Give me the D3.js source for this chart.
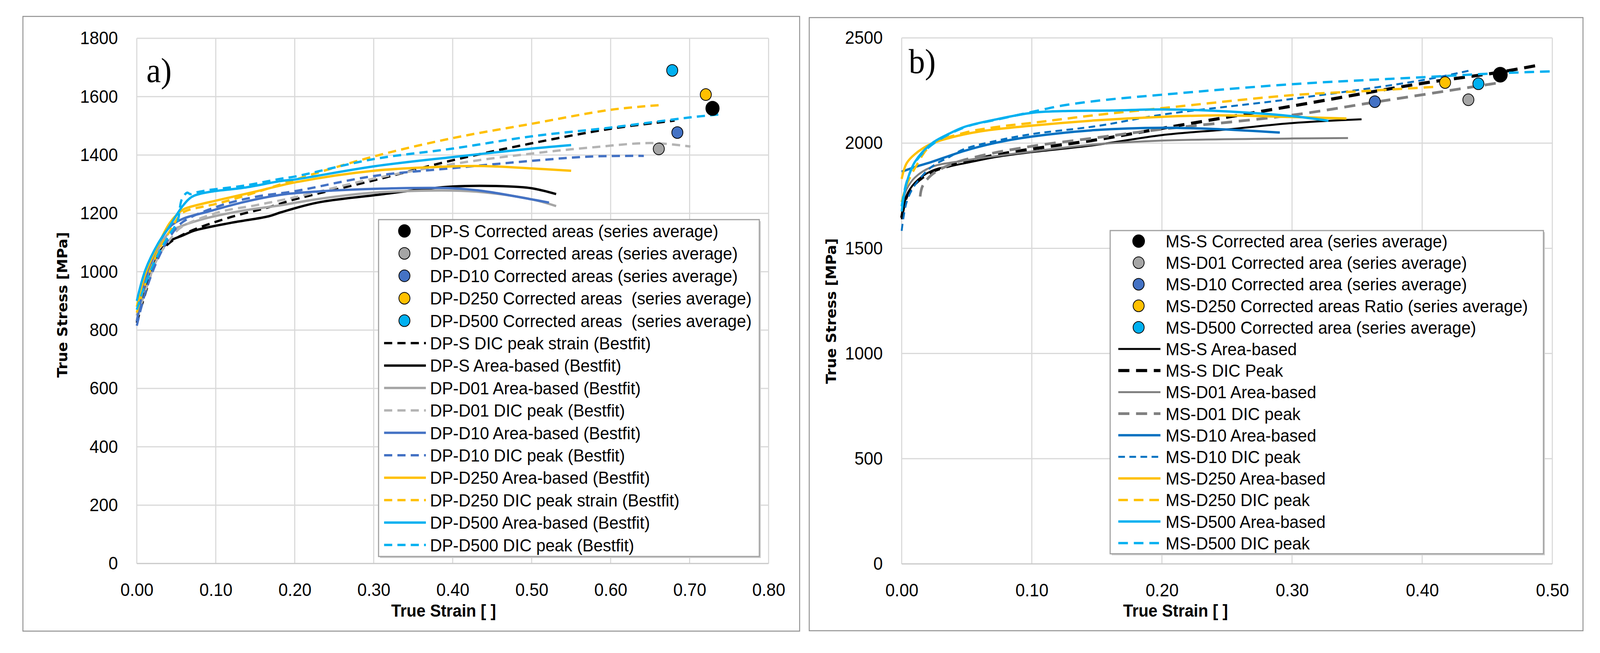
<!DOCTYPE html>
<html>
<head>
<meta charset="utf-8">
<script src="https://cdn.jsdelivr.net/npm/d3@7"></script>
<style>
  html, body { margin: 0; padding: 0; background: #fff; overflow: hidden; }
  svg { display: block; width: 100vw; height: 100vh; }
  text { font-family: "Liberation Sans", Arial, sans-serif; fill: #000; }
</style>
</head>
<body>
<svg id="chart" viewBox="0 0 4328 1671" preserveAspectRatio="none"></svg>
<script>
// ---- panel a: DP steel, points are [true strain, true stress MPa] ----
const dpS_dic = [[0,825],[0.011,927],[0.027,1055],[0.042,1100],[0.066,1137],[0.12,1188],[0.167,1221],[0.2,1248],[0.3,1313],[0.4,1382],[0.5,1440],[0.6,1490],[0.681,1518]];
const dpS_area = [[0,830],[0.011,949],[0.02,1015],[0.027,1061],[0.042,1105],[0.058,1124],[0.073,1141],[0.12,1168],[0.167,1190],[0.183,1204],[0.229,1237],[0.3,1262],[0.4,1292],[0.464,1293],[0.5,1286],[0.531,1266]];
const dpD01_area = [[0,850],[0.011,964],[0.027,1074],[0.042,1137],[0.058,1158],[0.089,1184],[0.136,1210],[0.183,1228],[0.229,1249],[0.3,1271],[0.4,1278],[0.44,1272],[0.5,1248],[0.531,1225]];
const dpD01_dic = [[0,835],[0.011,935],[0.027,1050],[0.042,1110],[0.055,1150],[0.104,1204],[0.151,1228],[0.2,1255],[0.3,1319],[0.4,1369],[0.5,1405],[0.576,1426],[0.652,1441],[0.701,1429]];
const dpD10_area = [[0,830],[0.011,970],[0.027,1090],[0.042,1154],[0.058,1181],[0.089,1205],[0.136,1239],[0.183,1264],[0.229,1275],[0.3,1284],[0.4,1286],[0.44,1276],[0.5,1248],[0.522,1237]];
const dpD10_dic = [[0,815],[0.011,930],[0.027,1045],[0.042,1120],[0.058,1170],[0.104,1225],[0.151,1257],[0.2,1276],[0.3,1328],[0.4,1355],[0.5,1380],[0.576,1395],[0.642,1397]];
const dpD250_area = [[0,880],[0.011,994],[0.027,1091],[0.042,1168],[0.058,1212],[0.066,1221],[0.104,1246],[0.151,1275],[0.2,1306],[0.3,1346],[0.4,1361],[0.44,1362],[0.5,1354],[0.55,1346]];
const dpD250_dic = [[0,860],[0.011,960],[0.027,1070],[0.042,1140],[0.055,1195],[0.062,1208],[0.104,1235],[0.151,1272],[0.2,1315],[0.3,1395],[0.4,1458],[0.5,1507],[0.6,1555],[0.662,1571]];
const dpD500_area = [[0,900],[0.011,1007],[0.027,1097],[0.042,1158],[0.058,1225],[0.07,1257],[0.089,1272],[0.136,1288],[0.183,1311],[0.2,1316],[0.3,1361],[0.4,1393],[0.5,1422],[0.55,1434]];
const dpD500_dic = [[0,870],[0.011,960],[0.027,1060],[0.042,1130],[0.0515,1172],[0.057,1248],[0.064,1271],[0.0675,1266],[0.0724,1270],[0.089,1279],[0.136,1295],[0.183,1319],[0.2,1326],[0.3,1386],[0.4,1422],[0.5,1464],[0.6,1494],[0.701,1529],[0.741,1540]];
// series averages (corrected areas): S, D01, D10, D250, D500
const dpAvgStrain = [0.729, 0.661, 0.6845, 0.7205, 0.678];
const dpAvgStress = [1560, 1421, 1477, 1607, 1690];

// ---- panel b: MS steel ----
const msS_area = [[0,1638],[0.0038,1750],[0.0101,1811],[0.0228,1867],[0.0482,1904],[0.0735,1935],[0.1,1957],[0.149,1991],[0.2,2038],[0.25,2065],[0.3,2095],[0.3534,2113]];
const msS_dic = [[0,1645],[0.0038,1745],[0.0101,1805],[0.0228,1862],[0.0482,1910],[0.0735,1945],[0.1,1972],[0.149,2015],[0.2,2070],[0.3,2176],[0.4,2284],[0.4585,2336],[0.488,2369]];
const msD01_area = [[0,1700],[0.0038,1780],[0.0101,1836],[0.0228,1886],[0.0482,1917],[0.1,1960],[0.149,1994],[0.2,2012],[0.3,2022],[0.343,2024]];
const msD01_dic = [[0.0142,1746],[0.016,1795],[0.0228,1848],[0.0369,1897],[0.061,1940],[0.1,1985],[0.149,2025],[0.2,2066],[0.3,2133],[0.364,2195],[0.4355,2264],[0.4614,2289]];
const msD10_area = [[0,1864],[0.0101,1886],[0.0228,1910],[0.0482,1963],[0.0735,2003],[0.1,2031],[0.149,2062],[0.2,2073],[0.2446,2066],[0.2906,2050]];
const msD10_dic = [[0,1583],[0.0038,1719],[0.0101,1800],[0.0228,1886],[0.0369,1935],[0.0482,1972],[0.0735,2012],[0.1,2043],[0.149,2080],[0.2,2135],[0.3,2210],[0.4,2299],[0.438,2347]];
const msD250_area = [[0,1830],[0.0038,1904],[0.0101,1947],[0.0228,1997],[0.0369,2025],[0.0608,2056],[0.1,2083],[0.149,2108],[0.2,2125],[0.2446,2132],[0.3,2124],[0.3418,2117]];
const msD250_dic = [[0,1720],[0.0038,1800],[0.0101,1880],[0.0228,1991],[0.0482,2049],[0.0735,2077],[0.1,2096],[0.149,2133],[0.2,2166],[0.3,2228],[0.3515,2246],[0.409,2267]];
const msD500_area = [[0,1675],[0.0038,1811],[0.0101,1910],[0.0228,1997],[0.0369,2046],[0.0482,2077],[0.0735,2114],[0.1,2144],[0.124,2152],[0.162,2155],[0.2,2160],[0.2446,2152],[0.3,2128],[0.328,2106]];
const msD500_dic = [[0,1700],[0.0038,1815],[0.0101,1905],[0.0228,1990],[0.0482,2075],[0.0735,2112],[0.1,2148],[0.124,2179],[0.1545,2204],[0.2,2230],[0.3,2280],[0.4,2313],[0.458,2332],[0.5,2341]];
const msAvgStrain = [0.46, 0.4355, 0.3636, 0.4176, 0.4432];
const msAvgStress = [2325, 2206, 2197, 2288, 2282];

// axis ticks
const dpStrainTicks = [0, 0.1, 0.2, 0.3, 0.4, 0.5, 0.6, 0.7, 0.8];
const dpStressTicks = [0, 200, 400, 600, 800, 1000, 1200, 1400, 1600, 1800];
const msStrainTicks = [0, 0.1, 0.2, 0.3, 0.4, 0.5];
const msStressTicks = [0, 500, 1000, 1500, 2000, 2500];

const BLACK = "#000000", GREY = "#a5a5a5", BLUE = "#4472c4", GOLD = "#ffc000", CYAN = "#00b0f0";
const DBLUE = "#0070c0", DGREY = "#808080";

const dpPoints = ["S", "D01", "D10", "D250", "D500"].map((k, i) => ({
  name: `DP-${k} Corrected areas ${i > 2 ? " " : ""}(series average)`,
  x: dpAvgStrain[i], y: dpAvgStress[i],
  color: [BLACK, GREY, BLUE, GOLD, CYAN][i], r: i === 0 ? 18 : 15
}));
const dpLines = [
  { name: "DP-S DIC peak strain (Bestfit)", data: dpS_dic, color: BLACK, dash: "22,14", w: 6 },
  { name: "DP-S Area-based (Bestfit)", data: dpS_area, color: BLACK, dash: null, w: 6 },
  { name: "DP-D01 Area-based (Bestfit)", data: dpD01_area, color: GREY, dash: null, w: 6 },
  { name: "DP-D01 DIC peak (Bestfit)", data: dpD01_dic, color: "#b4b4b4", dash: "22,14", w: 6 },
  { name: "DP-D10 Area-based (Bestfit)", data: dpD10_area, color: BLUE, dash: null, w: 6 },
  { name: "DP-D10 DIC peak (Bestfit)", data: dpD10_dic, color: BLUE, dash: "22,14", w: 6 },
  { name: "DP-D250 Area-based (Bestfit)", data: dpD250_area, color: GOLD, dash: null, w: 6 },
  { name: "DP-D250 DIC peak strain (Bestfit)", data: dpD250_dic, color: GOLD, dash: "22,14", w: 6 },
  { name: "DP-D500 Area-based (Bestfit)", data: dpD500_area, color: CYAN, dash: null, w: 6 },
  { name: "DP-D500 DIC peak (Bestfit)", data: dpD500_dic, color: CYAN, dash: "22,14", w: 6 }
];

const msPoints = ["MS-S Corrected area (series average)", "MS-D01 Corrected area (series average)",
  "MS-D10 Corrected area (series average)", "MS-D250 Corrected areas Ratio (series average)",
  "MS-D500 Corrected area (series average)"].map((name, i) => ({
  name, x: msAvgStrain[i], y: msAvgStress[i],
  color: [BLACK, GREY, BLUE, GOLD, CYAN][i], r: i === 0 ? 19 : 15
}));
const msLines = [
  { name: "MS-S Area-based", data: msS_area, color: BLACK, dash: null, w: 5 },
  { name: "MS-S DIC Peak", data: msS_dic, color: BLACK, dash: "30,18", w: 8 },
  { name: "MS-D01 Area-based", data: msD01_area, color: DGREY, dash: null, w: 5 },
  { name: "MS-D01 DIC peak", data: msD01_dic, color: DGREY, dash: "30,18", w: 7 },
  { name: "MS-D10 Area-based", data: msD10_area, color: DBLUE, dash: null, w: 6 },
  { name: "MS-D10 DIC peak", data: msD10_dic, color: DBLUE, dash: "18,12", w: 5 },
  { name: "MS-D250 Area-based", data: msD250_area, color: GOLD, dash: null, w: 6 },
  { name: "MS-D250 DIC peak", data: msD250_dic, color: GOLD, dash: "26,16", w: 6 },
  { name: "MS-D500 Area-based", data: msD500_area, color: CYAN, dash: null, w: 6 },
  { name: "MS-D500 DIC peak", data: msD500_dic, color: CYAN, dash: "26,16", w: 6 }
];

const svg = d3.select("#chart");
svg.append("rect").attr("width", 4328).attr("height", 1671).attr("fill", "#fff");

function panel(cfg) {
  const g = svg.append("g");

  g.append("rect")
    .attr("x", cfg.frame[0]).attr("y", cfg.frame[1])
    .attr("width", cfg.frame[2]).attr("height", cfg.frame[3])
    .attr("fill", "#fff").attr("stroke", "#8f8f8f").attr("stroke-width", 2.5);

  const x = d3.scaleLinear().domain(cfg.xDomain).range([cfg.plot.left, cfg.plot.right]);
  const y = d3.scaleLinear().domain(cfg.yDomain).range([cfg.plot.bottom, cfg.plot.top]);

  // grid
  g.append("g").selectAll("line").data(cfg.xTicks).join("line")
    .attr("x1", d => x(d)).attr("x2", d => x(d))
    .attr("y1", cfg.plot.top).attr("y2", cfg.plot.bottom)
    .attr("stroke", "#d9d9d9").attr("stroke-width", 3);
  g.append("g").selectAll("line").data(cfg.yTicks).join("line")
    .attr("x1", cfg.plot.left).attr("x2", cfg.plot.right)
    .attr("y1", d => y(d)).attr("y2", d => y(d))
    .attr("stroke", d => d === 0 ? "#c8c8c8" : "#d9d9d9").attr("stroke-width", 3);

  // tick labels through d3 axes
  const xAxis = g.append("g")
    .attr("transform", `translate(0,${cfg.plot.bottom})`)
    .call(d3.axisBottom(x).tickValues(cfg.xTicks).tickFormat(d3.format(".2f")).tickSize(0).tickPadding(50));
  const yAxis = g.append("g")
    .attr("transform", `translate(${cfg.plot.left},0)`)
    .call(d3.axisLeft(y).tickValues(cfg.yTicks).tickFormat(d3.format("d")).tickSize(0).tickPadding(51));
  [xAxis, yAxis].forEach(a => {
    a.select(".domain").remove();
    a.selectAll("text").style("font-size", "46px").style("font-family", "'Liberation Sans', Arial, sans-serif").attr("fill", "#000");
  });

  // axis titles
  g.append("text")
    .attr("x", cfg.xTitle[0]).attr("y", cfg.xTitle[1])
    .attr("text-anchor", "middle")
    .style("font-size", "44px").style("font-weight", "bold")
    .text("True Strain [  ]");
  g.append("text")
    .attr("transform", `translate(${cfg.yTitle[0]},${cfg.yTitle[1]}) rotate(-90)`)
    .attr("text-anchor", "middle")
    .attr("textLength", 373).attr("lengthAdjust", "spacingAndGlyphs")
    .style("font-family", "'DejaVu Sans', Verdana, sans-serif")
    .style("font-size", "38px").style("font-weight", "bold")
    .text("True Stress [MPa]");

  // curves
  const line = d3.line()
    .x(d => x(d[0])).y(d => y(d[1]))
    .curve(d3.curveCatmullRom.alpha(0.5));
  g.append("g").selectAll("path").data(cfg.lines).join("path")
    .attr("d", d => line(d.data))
    .attr("fill", "none")
    .attr("stroke", d => d.color)
    .attr("stroke-width", d => d.w)
    .attr("stroke-dasharray", d => d.dash)
    .attr("stroke-linejoin", "round");

  // series averages
  g.append("g").selectAll("circle").data(cfg.points).join("circle")
    .attr("cx", d => x(d.x)).attr("cy", d => y(d.y)).attr("r", d => d.r)
    .attr("fill", d => d.color).attr("stroke", "#000").attr("stroke-width", 2);

  // panel letter
  g.append("text")
    .attr("x", cfg.letter[0]).attr("y", cfg.letter[1])
    .style("font-family", "'Liberation Serif', 'Times New Roman', serif")
    .style("font-size", "88px")
    .text(cfg.letter[2]);

  // legend
  const L = cfg.legend;
  const lg = g.append("g");
  lg.append("rect")
    .attr("x", L.x + 4).attr("y", L.y + 4).attr("width", L.w).attr("height", L.h)
    .attr("fill", "#d0d0d0");
  lg.append("rect")
    .attr("x", L.x).attr("y", L.y).attr("width", L.w).attr("height", L.h)
    .attr("fill", "#fff").attr("stroke", "#a0a0a0").attr("stroke-width", 3);

  const entries = cfg.points.map(p => ({ kind: "pt", ...p })).concat(cfg.lines.map(l => ({ kind: "ln", ...l })));
  const row = lg.selectAll("g.row").data(entries).join("g")
    .attr("class", "row")
    .attr("transform", (d, i) => `translate(0,${L.first + i * L.step})`);
  row.filter(d => d.kind === "pt").append("circle")
    .attr("cx", L.mark).attr("r", d => d.r === 15 ? 15 : 16)
    .attr("fill", d => d.color).attr("stroke", "#000").attr("stroke-width", 2);
  row.filter(d => d.kind === "ln").append("line")
    .attr("x1", L.l1).attr("x2", L.l2)
    .attr("stroke", d => d.color).attr("stroke-width", d => d.w)
    .attr("stroke-dasharray", d => d.dash);
  row.append("text")
    .attr("x", L.text).attr("y", 16)
    .style("font-size", "45px")
    .style("white-space", "pre")
    .text(d => d.name);
}

panel({
  frame: [62, 42, 2101, 1573],
  plot: { left: 370, right: 2079, top: 98, bottom: 1442 },
  xDomain: [0, 0.8], yDomain: [0, 1800],
  xTicks: dpStrainTicks, yTicks: dpStressTicks,
  xTitle: [1200, 1578], yTitle: [182, 780],
  letter: [396, 210, "a)"],
  lines: dpLines, points: dpPoints,
  legend: { x: 1024, y: 562, w: 1030, h: 862, first: 591, step: 57.4, mark: 1094, text: 1163, l1: 1039, l2: 1152 }
});

panel({
  frame: [2189, 45, 2093, 1569],
  plot: { left: 2439, right: 4199, top: 97, bottom: 1443 },
  xDomain: [0, 0.5], yDomain: [0, 2500],
  xTicks: msStrainTicks, yTicks: msStressTicks,
  xTitle: [3180, 1578], yTitle: [2261, 796],
  letter: [2458, 187, "b)"],
  lines: msLines, points: msPoints,
  legend: { x: 3003, y: 590, w: 1172, h: 827, first: 617, step: 55.2, mark: 3080, text: 3153, l1: 3025, l2: 3139 }
});
</script>
</body>
</html>
